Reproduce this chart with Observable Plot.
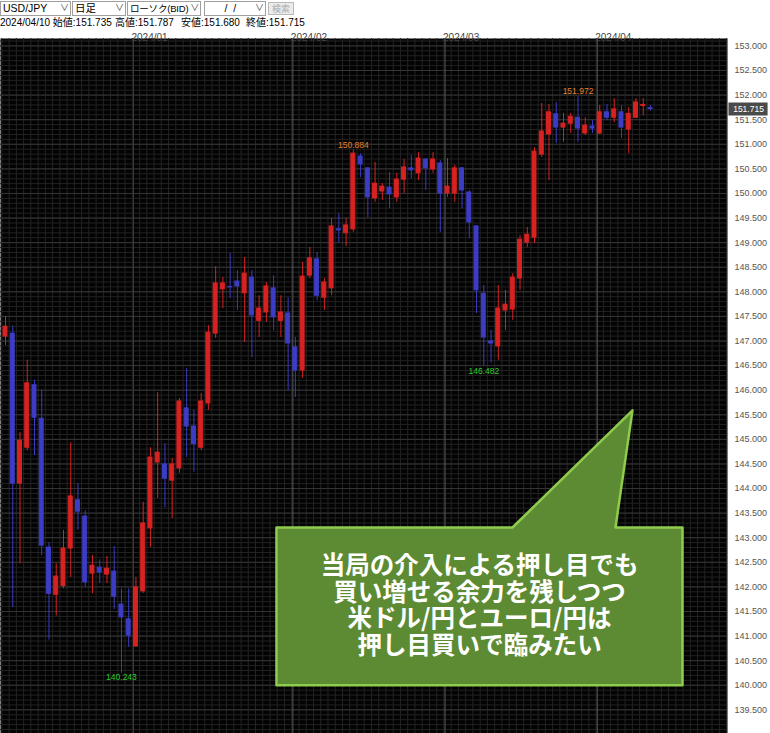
<!DOCTYPE html>
<html><head><meta charset="utf-8">
<script src="https://cdn.jsdelivr.net/npm/d3@7"></script>
<script src="https://cdn.jsdelivr.net/npm/@observablehq/plot@0.6"></script>
<style>
html,body{margin:0;padding:0;background:#fff;width:770px;height:733px;overflow:hidden;}
#toolbar{position:absolute;top:0;left:0;width:770px;height:17px;font:10.5px "Liberation Sans","Noto Sans CJK JP",sans-serif;color:#000;}
.sel{position:absolute;top:1px;height:15px;border:1px solid #a0a0a0;box-sizing:border-box;background:#fff;line-height:13px;padding-left:2px;white-space:nowrap;overflow:hidden;}
.sel .arr{position:absolute;right:1px;top:0;color:#444;font-size:9px;background:#fff;padding-left:1px;}
.btn{position:absolute;top:2px;height:13px;border:1px solid #b8b8b8;box-sizing:border-box;background:#ececec;color:#aaa;line-height:11px;font-size:9px;padding:0 3px;font-family:"Noto Sans CJK JP",sans-serif;}
#info{position:absolute;top:17px;left:0;width:770px;height:11px;font:10px "Liberation Sans","Noto Sans CJK JP",sans-serif;line-height:11px;color:#000;}
#info span{position:absolute;top:0;white-space:nowrap;}
#chart{position:absolute;top:28px;left:0;}
</style></head>
<body>
<div id="toolbar">
  <div class="sel" style="left:0;width:71px">USD/JPY<span class="arr">∨</span></div>
  <div class="sel" style="left:72px;width:54px">日足<span class="arr">∨</span></div>
  <div class="sel" style="left:127px;width:74px;font-size:9.5px;letter-spacing:-0.2px">ローソク(BID)<span class="arr">∨</span></div>
  <div class="sel" style="left:204px;width:62px">&nbsp;&nbsp;&nbsp;&nbsp;&nbsp;&nbsp;/&nbsp;&nbsp;/<span class="arr">∨</span></div>
  <div class="btn" style="left:268px;">検索</div>
</div>
<div id="info">
  <span style="left:0">2024/04/10 始値:151.735</span>
  <span style="left:115px">高値:151.787</span>
  <span style="left:181px">安値:151.680</span>
  <span style="left:246px">終値:151.715</span>
</div>
<div id="chart"></div>
<script>
// ---- Data (USD/JPY daily) ----
const openVals = [147.09,147.15,144.10,144.83,146.10,145.42,142.80,141.84,142.02,142.78,
143.76,143.43,142.27,142.39,142.25,142.31,141.64,141.34,140.79,141.91,
143.19,144.53,144.49,144.16,144.41,145.63,145.26,144.83,145.73,147.15,
148.05,148.10,148.21,147.97,148.29,147.41,147.58,148.07,147.41,147.56,
146.87,146.40,148.33,148.66,147.88,148.07,149.27,149.19,149.27,150.75,
150.51,149.90,150.04,150.12,149.92,150.28,150.51,150.41,150.69,150.49,
150.61,150.00,150.00,150.51,150.02,149.33,147.96,146.99,146.89,147.62,
147.64,148.27,149.00,149.10,150.79,151.20,151.61,151.34,151.42,151.54,
151.22,151.36,151.22,151.65,151.54,151.65,151.30,151.54,151.78,151.735];
const highVals = [147.50,147.30,145.14,146.61,146.20,146.00,142.90,142.47,143.15,144.93,
144.10,143.55,142.64,142.55,142.62,142.82,141.96,141.96,142.19,143.72,
144.83,145.95,144.91,144.61,145.83,146.44,145.59,145.93,147.31,148.51,
148.29,148.78,148.43,148.70,148.43,147.92,148.19,148.33,147.92,147.88,
147.07,148.60,148.90,148.80,148.27,149.49,149.59,149.49,150.884,150.81,
150.53,150.63,150.20,150.43,150.41,150.69,150.77,150.83,150.71,150.83,
150.67,150.71,150.57,150.53,150.06,149.35,148.13,147.21,148.13,148.03,
148.37,149.14,149.31,150.93,151.83,151.81,151.85,151.63,151.63,151.972,
151.54,151.48,151.79,151.81,151.93,151.79,151.75,151.93,151.93,151.787];
const lowVals = [146.91,141.58,142.47,144.77,144.67,142.64,140.92,141.41,141.96,142.19,
143.15,142.00,141.86,142.07,142.07,141.54,140.243,140.77,140.77,141.87,
142.80,143.80,143.61,143.39,144.31,144.63,144.33,144.77,145.59,147.05,
147.66,147.86,147.62,146.97,146.66,147.07,147.38,147.21,147.07,145.99,
145.85,146.24,148.27,147.82,147.62,147.92,149.00,148.92,149.21,150.32,
149.51,149.82,149.86,149.69,149.82,150.00,150.30,150.26,150.06,150.41,
149.21,149.92,149.82,149.69,149.08,147.56,146.482,146.55,146.61,147.21,
147.42,148.03,148.90,148.98,150.73,150.26,151.02,151.04,151.22,151.04,
151.18,151.22,151.20,151.48,151.44,151.12,150.81,151.52,151.58,151.680];
const closeVals = [147.29,144.10,144.97,146.14,145.44,142.84,141.86,142.21,142.78,143.84,
143.53,142.09,142.43,142.29,142.37,141.80,141.38,141.01,141.99,143.29,
144.63,144.73,144.20,144.49,145.77,145.26,144.90,145.77,147.17,148.17,
148.17,148.09,148.11,148.37,147.52,147.66,148.11,147.48,147.58,146.95,
146.40,148.31,148.68,147.92,148.19,149.33,149.25,149.35,150.81,150.59,
149.92,150.20,150.14,149.98,150.28,150.53,150.47,150.71,150.51,150.69,
150.00,150.14,150.51,150.06,149.41,148.03,147.07,146.95,147.66,147.74,
148.29,149.06,149.16,150.85,151.26,151.65,151.34,151.42,151.56,151.32,
151.38,151.32,151.65,151.54,151.71,151.34,151.62,151.85,151.80,151.715];

// month boundaries (candle index of first trading day) and labels
const monthLabels = ["2024/01","2024/02","2024/03","2024/04"];
const monthStartIdx = [18, 40, 61, 82];

// high/low annotations
const extremeLabels = ["150.884","151.972"];
const extremeIdx = [48, 79];
const lowLabels = ["140.243","146.482"];
const lowIdx = [16, 66];

// y-axis ticks
const yTicks = d3.range(139.5, 153.001, 0.5);

// callout
const calloutLines = ["当局の介入による押し目でも","買い増せる余力を残しつつ","米ドル/円とユーロ/円は","押し目買いで臨みたい"];

// ---- Build ----
const RED = "#d82222", BLUE = "#3c3cc4";
const candles = openVals.map((o, i) => ({
  i, o, h: highVals[i], l: lowVals[i], c: closeVals[i],
  col: closeVals[i] >= o ? RED : BLUE
}));
const xDomain = [-0.69, 99.63];
const yDomain = [139.019, 153.151];
const bw = 0.276;

const gridY = d3.range(139.1, 153.15, 0.1);
const gridX = d3.range(-0.5, 100, 1);
const monthLineX = monthStartIdx.map(i => i - 0.345);

const callout = [
  {x: 37.39, y: 143.208}, {x: 69.96, y: 143.208}, {x: 86.52, y: 145.59},
  {x: 84.17, y: 143.208}, {x: 93.42, y: 143.208}, {x: 93.42, y: 140.0},
  {x: 37.39, y: 140.0}
];
const last = candles[candles.length - 1];

const plot = Plot.plot({
  width: 770, height: 705,
  marginTop: 10, marginRight: 43, marginBottom: 0, marginLeft: 0,
  x: {domain: xDomain, axis: null},
  y: {domain: yDomain, axis: null},
  color: {type: "identity"},
  style: {background: "#fff", fontFamily: "'Liberation Sans',sans-serif"},
  marks: [
    Plot.frame({fill: "#030303", stroke: null}),
    Plot.ruleY(gridY, {stroke: "#222", strokeWidth: 1}),
    Plot.ruleX(gridX, {stroke: "#232323", strokeWidth: 1}),
    Plot.ruleY(yTicks, {stroke: "#353535", strokeWidth: 1}),
    Plot.ruleX(monthLineX.slice(0, 1), {stroke: "#8c1c1c", strokeWidth: 1}),
    Plot.ruleX(monthLineX.slice(1), {stroke: "#5a5a5a", strokeWidth: 1}),
    Plot.ruleX(candles, {x: "i", y1: "l", y2: "h", stroke: "col", strokeWidth: 1}),
    Plot.rect(candles, {x1: d => d.i - bw, x2: d => d.i + bw, y1: "o", y2: "c", fill: "col", stroke: "col", strokeWidth: 1}),
    Plot.text(extremeLabels, {x: (d, k) => extremeIdx[k], y: (d, k) => highVals[extremeIdx[k]], text: d => d,
      lineAnchor: "bottom", dy: -2, fill: "#e2802a", fontSize: 8.5}),
    Plot.text(lowLabels, {x: (d, k) => lowIdx[k], y: (d, k) => lowVals[lowIdx[k]], text: d => d,
      lineAnchor: "top", dy: 1, fill: "#2ccc2c", fontSize: 8.5}),
    Plot.text(monthLabels, {x: (d, k) => monthLineX[k], frameAnchor: "top", dy: -5, dx: -2, text: d => d,
      textAnchor: "start", fill: "#444", fontSize: 10}),
    Plot.axisY(yTicks, {anchor: "right", tickSize: 0, tickPadding: 7, tickFormat: d3.format(".3f"),
      fontSize: 9, fill: "#555", textAnchor: "start"}),
    Plot.ruleY([last], {y: "c", x1: xDomain[1] + 0.2, x2: xDomain[1] + 5.6, stroke: "#4a4a4a", strokeWidth: 13}),
    Plot.text([last], {y: "c", x: xDomain[1] + 2.9, text: d => d3.format(".3f")(d.c), fill: "#fff", fontSize: 8.5}),
    Plot.line(callout, {x: "x", y: "y", curve: "linear-closed", fill: "#5d8b34", stroke: "#8fcb4c", strokeWidth: 2.5}),
    Plot.text([calloutLines.join("\n")], {x: 65.41, y: 141.62, text: d => d, fill: "#fff", fontSize: 24.5,
      fontWeight: "bold", lineHeight: 1.09, fontFamily: "'Noto Sans CJK JP',sans-serif"})
  ]
});
document.getElementById("chart").appendChild(plot);
</script>
</body></html>
